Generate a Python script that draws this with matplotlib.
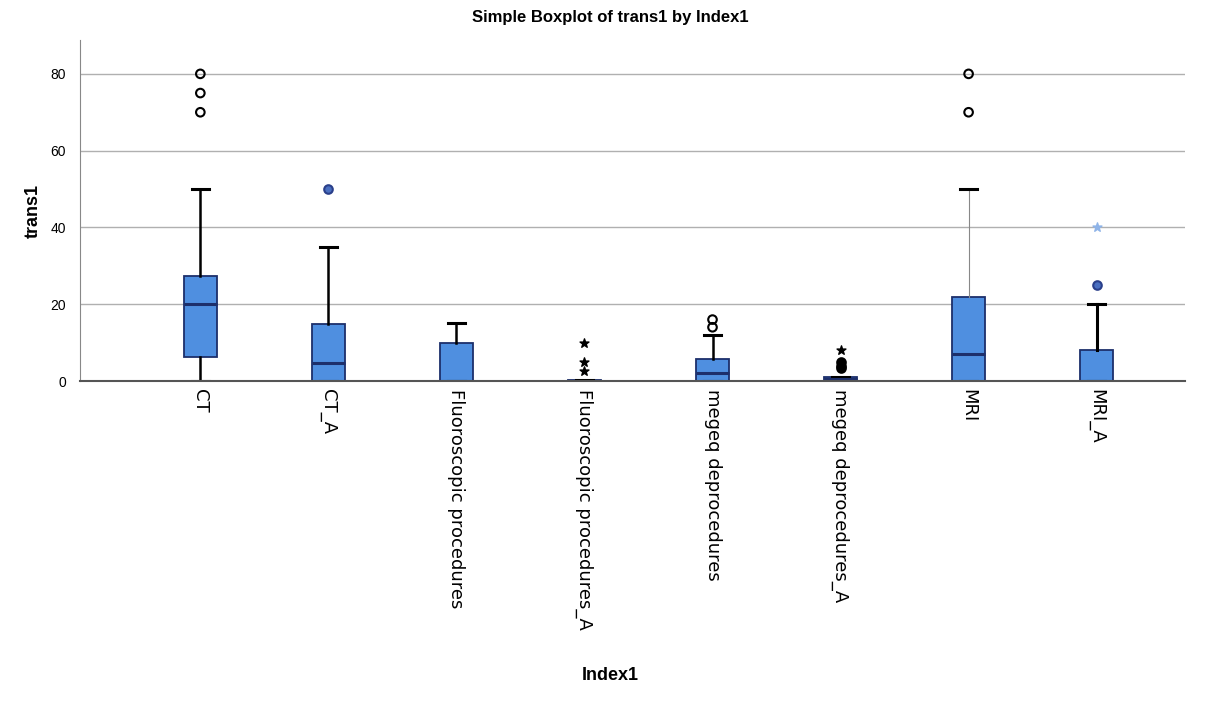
import matplotlib
matplotlib.use("Agg")
import matplotlib.pyplot as plt
import numpy as np

plt.rcParams['font.family'] = ['Liberation Sans', 'DejaVu Sans']

# categories
labels = ['CT', 'CT_A', 'Fluoroscopic procedures', 'Fluoroscopic procedures_A',
          'megeq deprocedures', 'megeq deprocedures_A', 'MRI', 'MRI_A']

# box summaries
q1 = [6.3, 0, 0, 0, 0, 0, 0, 0]
med = [20, 4.7, 0, 0, 2, 0.5, 7, 0]
q3 = [27.3, 14.8, 10, 0.3, 5.7, 1, 22, 8]
whislo = [0, 0, 0, 0, 0, 0, 0, 0]
whishi = [50, 35, 15, 0.3, 12, 1, 50, 20]

# outliers (circles) and extremes (stars)
out_circ = [[80, 75, 70], [50], [], [], [14, 16], [5, 4, 3.5], [80, 70], [25]]
out_star = [[], [], [], [10, 5, 2.5], [], [8], [], [40]]

circ_face = ['none', '#4a6fc0', 'none', 'none', 'none', 'black', 'none', '#4a6fc0']
circ_edge = ['black', '#2a3f8a', 'black', 'black', 'black', 'black', 'black', '#2a3f8a']
star_col = ['black', 'black', 'black', 'black', 'black', 'black', 'black', '#8fb4e8']
whisk_w = [1.8, 1.8, 1.8, 1.8, 1.8, 1.8, 0.8, 2.2]
whisk_c = ['black', 'black', 'black', 'black', 'black', 'black', '#888888', 'black']

fig = plt.figure(figsize=(12.21, 7.17), dpi=100)
ax = fig.add_axes([0.0655, 0.4686, 0.905, 0.4755])

pos = np.arange(1, len(labels) + 1)
stats = []
for i in range(len(labels)):
    stats.append(dict(q1=q1[i], med=med[i], q3=q3[i], whislo=whislo[i],
                      whishi=whishi[i], fliers=[]))

for i, s in enumerate(stats):
    ax.bxp([s], positions=[pos[i]], widths=0.26, patch_artist=True,
           showfliers=False,
           boxprops=dict(facecolor='#4f8fe0', edgecolor='#1d2f6b', linewidth=1.3),
           medianprops=dict(color='#1d2f6b', linewidth=2.2),
           whiskerprops=dict(color=whisk_c[i], linewidth=whisk_w[i]),
           capprops=dict(color='black', linewidth=2.2), capwidths=0.13)

for i in range(len(labels)):
    if out_circ[i]:
        ax.scatter([pos[i]] * len(out_circ[i]), out_circ[i], s=38, marker='o',
                   facecolors=circ_face[i], edgecolors=circ_edge[i],
                   linewidths=1.5, zorder=5)
    if out_star[i]:
        ax.scatter([pos[i]] * len(out_star[i]), out_star[i], s=45, marker='*',
                   color=star_col[i], zorder=5)

ax.set_xlim(0.06, 8.69)
ax.set_ylim(0, 88.8)
ax.set_yticks([0, 20, 40, 60, 80])
ax.yaxis.grid(True, color='#b0b0b0', linewidth=1)
ax.set_axisbelow(True)
ax.set_xticks(pos)
ax.set_xticklabels(labels, rotation=270, ha='center', va='top', fontsize=13,
                   family=['DejaVu Sans'])
ax.tick_params(axis='x', length=0, pad=6)
ax.tick_params(axis='y', length=0, labelsize=10, pad=10)
for sp in ['top', 'right']:
    ax.spines[sp].set_visible(False)
ax.spines['left'].set_color('#888888')
ax.spines['bottom'].set_color('#555555')
ax.spines['bottom'].set_linewidth(1.5)

ax.set_ylabel('trans1', fontsize=13, fontweight='bold', labelpad=6)
fig.text(0.5, 0.0575, 'Index1', ha='center', va='center', fontsize=13, fontweight='bold')
fig.text(0.5, 0.975, 'Simple Boxplot of trans1 by Index1', ha='center', va='center',
         fontsize=12, fontweight='bold')

fig.savefig('out.png', dpi=100)
